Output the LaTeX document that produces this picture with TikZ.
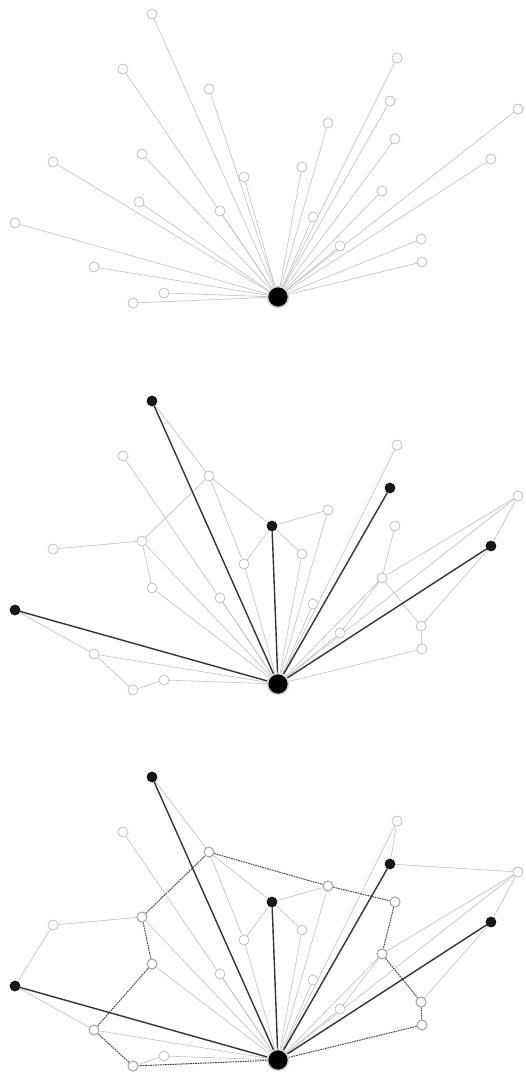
\documentclass[tikz,border=0pt]{standalone}
\usetikzlibrary{backgrounds}
\tikzset{
  sensor/.style={circle, draw=gray!60, fill=white, line width=0.6pt, inner sep=0pt, minimum size=10pt},
  chead/.style={circle, draw=black, fill=black!90, line width=0.6pt, inner sep=0pt, minimum size=10pt},
  hopnode/.style={sensor, draw=gray!70, line width=1.1pt},
  sinknode/.style={circle, draw=gray!35, fill=black, line width=1.6pt, inner sep=0pt, minimum size=21pt},
  link/.style={draw=gray!50, line width=0.6pt},
  heavy/.style={draw=black!80, line width=1.4pt},
  tour/.style={draw=black!75, line width=1pt, dash pattern=on 1.6pt off 0.9pt},
}

\begin{document}
\begin{tikzpicture}[x=1pt, y=-1pt]
\useasboundingbox (0,0) rectangle (526,1075);

% -----------------------------------------
% Panel 1: every sensor sends straight to the sink
% -----------------------------------------
\node[sinknode] (as) at (278,297) {};
\foreach \n/\x/\y in {1/152/14, 2/123/69, 3/209/89, 4/397/58, 5/390/101, 6/518/109,
    7/328/123, 8/395/139, 9/53/162, 10/142/154, 11/302/167, 12/491/159,
    13/244/177, 14/382/191, 15/139/202, 16/220/211, 17/313/217, 18/15/223,
    19/421/239, 20/340/246, 21/422/262, 22/94/267, 23/164/293, 24/133/303}
  \node[sensor] (a\n) at (\x,\y) {};

% -----------------------------------------
% Panel 2: cluster heads (black)
% -----------------------------------------
\begin{scope}[yshift=-387pt]
\node[sinknode] (bs) at (278,297) {};
\foreach \n/\x/\y/\s in {1/152/14/chead, 2/123/69/sensor, 3/209/89/sensor, 4/397/58/sensor,
    5/390/101/chead, 6/518/109/sensor, 7/328/123/sensor, 8/395/139/sensor,
    9/53/162/sensor, 10/142/154/sensor, 11/302/167/sensor, 12/491/159/chead,
    13/244/177/sensor, 14/382/191/sensor, 15/152/201/sensor, 16/220/211/sensor,
    17/313/217/sensor, 18/15/223/chead, 19/421/239/sensor, 20/340/246/sensor,
    21/422/262/sensor, 22/94/267/sensor, 23/164/293/sensor, 24/133/303/sensor,
    x/272/139/chead}
  \node[\s] (b\n) at (\x,\y) {};
\end{scope}

% -----------------------------------------
% Panel 3: cluster heads + collecting tour (dashed)
% -----------------------------------------
\begin{scope}[yshift=-763pt]
\node[sinknode] (cs) at (278,297) {};
\foreach \n/\x/\y/\s in {1/152/14/chead, 2/123/69/sensor, 3/209/89/hopnode, 4/397/58/sensor,
    5/390/101/chead, 6/518/109/sensor, 7/328/123/hopnode, 8/395/139/hopnode,
    9/53/162/sensor, 10/142/154/hopnode, 11/302/167/sensor, 12/491/159/chead,
    13/244/177/sensor, 14/382/191/hopnode, 15/152/201/hopnode, 16/220/211/sensor,
    17/313/217/sensor, 18/15/223/chead, 19/421/239/hopnode, 20/340/246/sensor,
    21/422/262/hopnode, 22/94/267/hopnode, 23/164/293/sensor, 24/133/303/hopnode,
    x/272/139/chead}
  \node[\s] (c\n) at (\x,\y) {};
\end{scope}

% links go behind the nodes
\begin{scope}[on background layer]
\foreach \n in {1,...,24} \draw[link] (as) -- (a\n);

\foreach \u/\v in {1/3, 3/10, 3/13, 3/x, 9/10, 10/15, x/7, x/11, x/13, 8/14, 14/6,
    14/19, 14/20, 6/12, 12/19, 19/21, 18/22, 22/24, 24/23}
  \draw[link] (b\u) -- (b\v);
\foreach \n in {2,4,6,7,10,11,13,14,15,16,17,20,21,22,23} \draw[link] (bs) -- (b\n);
\foreach \n in {1,5,12,18,x} \draw[heavy] (bs) -- (b\n);

\foreach \u/\v in {1/3, 3/13, 3/x, 9/10, 9/18, x/7, x/11, x/13, 14/6, 14/20,
    6/12, 12/19, 18/22, 24/23, 4/5, 5/6}
  \draw[link] (c\u) -- (c\v);
\foreach \n in {2,4,6,7,10,11,13,14,15,16,17,20,22,23} \draw[link] (cs) -- (c\n);
\foreach \n in {1,5,12,18,x} \draw[heavy] (cs) -- (c\n);
\draw[tour] (cs) -- (c24) -- (c22) -- (c15) -- (c10) -- (c3) -- (c7) -- (c8)
  -- (c14) -- (c19) -- (c21) -- (cs);
\end{scope}
\end{tikzpicture}
\end{document}
